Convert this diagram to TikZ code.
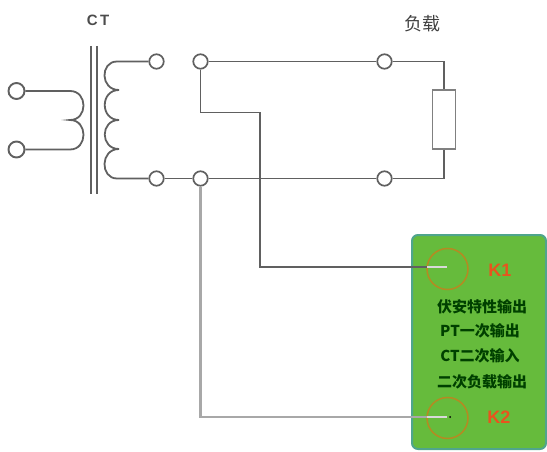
\documentclass[tikz,border=0pt]{standalone}
\usepackage{fontspec}
\setmainfont{Liberation Sans}
\newfontfamily\cjk{Noto Sans CJK SC}
\definecolor{wire}{HTML}{606060}
\definecolor{lightwire}{HTML}{A8A8A8}
\definecolor{panel}{HTML}{66BB3C}
\definecolor{panelrim}{HTML}{4FA58C}
\definecolor{ringc}{HTML}{B58A22}
\definecolor{redtxt}{HTML}{E8541E}
\tikzset{
  x=1pt,y=-1pt,
  wireline/.style={draw=wire,line width=1.8pt},
  greyline/.style={draw=lightwire,line width=2.2pt},
  terminal/.style={circle,draw=wire,line width=1.7pt,fill=white,minimum size=14.5pt,inner sep=0pt},
  bigterminal/.style={terminal,minimum size=16pt,line width=1.9pt},
  ring/.style={circle,draw=ringc,line width=1.5pt,minimum size=41pt,inner sep=0pt},
  paneltext/.style={font=\cjk\bfseries\fontsize{15}{15}\selectfont,text=black!75!green,inner sep=0pt},
  ktext/.style={font=\bfseries\fontsize{18}{18}\selectfont,text=redtxt,inner sep=0pt},
}
\begin{document}
\begin{tikzpicture}
\useasboundingbox (0,0) rectangle (547,452);
% panel
\node[draw=panelrim,line width=2pt,fill=panel,rounded corners=6pt,minimum width=134pt,minimum height=214pt,inner sep=0pt] (box) at (479,342) {};
\node[ring] (k1) at (447.5,269) {};
\node[ring] (k2) at (447.5,418) {};
\node[ktext] (k1t) at (500,270) {K1};
\node[ktext] (k2t) at (499,417) {K2};
\node[paneltext] (t1) at (482,307) {伏安特性输出};
\node[paneltext] (t2) at (480,331) {PT一次输出};
\node[paneltext] (t3) at (480,356) {CT二次输入};
\node[paneltext] (t4) at (482,382) {二次负载输出};
% labels
\node[font=\bfseries\fontsize{15}{15}\selectfont,text=black!70,inner sep=0pt] (ct) at (98,20) {C\,T};
\node[font=\cjk\fontsize{18}{18}\selectfont,text=black!75,inner sep=0pt] (load) at (422,24) {负载};
% core
\coordinate (c1a) at (91,46); \coordinate (c1b) at (91,194);
\coordinate (c2a) at (97,46); \coordinate (c2b) at (97,194);
\draw[wireline] (c1a) -- (c1b);
\draw[wireline] (c2a) -- (c2b);
% terminals
\node[bigterminal] (p1) at (16.5,91) {};
\node[bigterminal] (p2) at (16.5,149.5) {};
\node[terminal] (s1) at (156.5,61.5) {};
\node[terminal] (s2) at (156.5,178.5) {};
\node[terminal] (m1) at (200.5,61.5) {};
\node[terminal] (m2) at (200.5,178.5) {};
\node[terminal] (r1) at (384.5,61.5) {};
\node[terminal] (r2) at (384.5,178.5) {};
% resistor
\node[draw=wire!80,line width=1.6pt,fill=white,minimum width=23pt,minimum height=59pt,inner sep=0pt] (load r) at (444,119.5) {};
% coils
\coordinate (pA) at (70,91); \coordinate (pB) at (70,120); \coordinate (pC) at (70,149.5);
\draw[wireline] (p1) -- (pA) .. controls (88,91) and (88,120) .. (pB)
  .. controls (88,120) and (88,149.5) .. (pC) -- (p2);
\coordinate (sA) at (117,61.5); \coordinate (sB) at (119,90); \coordinate (sC) at (119,120);
\coordinate (sD) at (119,149); \coordinate (sE) at (117,178.5);
\draw[wireline] (s1) -- (sA) .. controls (100,61.5) and (100,90) .. (sB)
  .. controls (100,90) and (100,120) .. (sC)
  .. controls (100,120) and (100,149) .. (sD)
  .. controls (100,149) and (100,178.5) .. (sE) -- (s2);
% circuit
\coordinate (rt) at (444,61.5); \coordinate (rb) at (444,178.5);
\draw[wireline] (m1) -- (r1);
\draw[wireline] (r1) -- (rt) -- (load r.north);
\draw[wireline] (load r.south) -- (rb) -- (r2);
\draw[wireline] (r2) -- (m2);
\draw[wireline] (m2) -- (s2);
% K1 wire
\coordinate (b1) at (200.5,112.5); \coordinate (b2) at (260,112.5); \coordinate (b3) at (260,267);
\coordinate (k1e) at (447,267);\coordinate (k1m) at (427,267);
\draw[wireline] (m1) -- (b1) -- (b2) -- (b3) -- (k1m);
\draw[draw=white!85!black,line width=1.5pt] (k1m) -- (k1e);
% K2 wire
\coordinate (b4) at (200.5,417); \coordinate (k2e) at (447,417);\coordinate (k2m) at (427,417);
\draw[greyline] (m2) -- (b4) -- (k2m);
\draw[draw=white!85!black,line width=1.5pt] (k2m) -- (k2e);
\fill[black] (k2e) ++(3,0) circle (1pt);
\end{tikzpicture}
\end{document}
